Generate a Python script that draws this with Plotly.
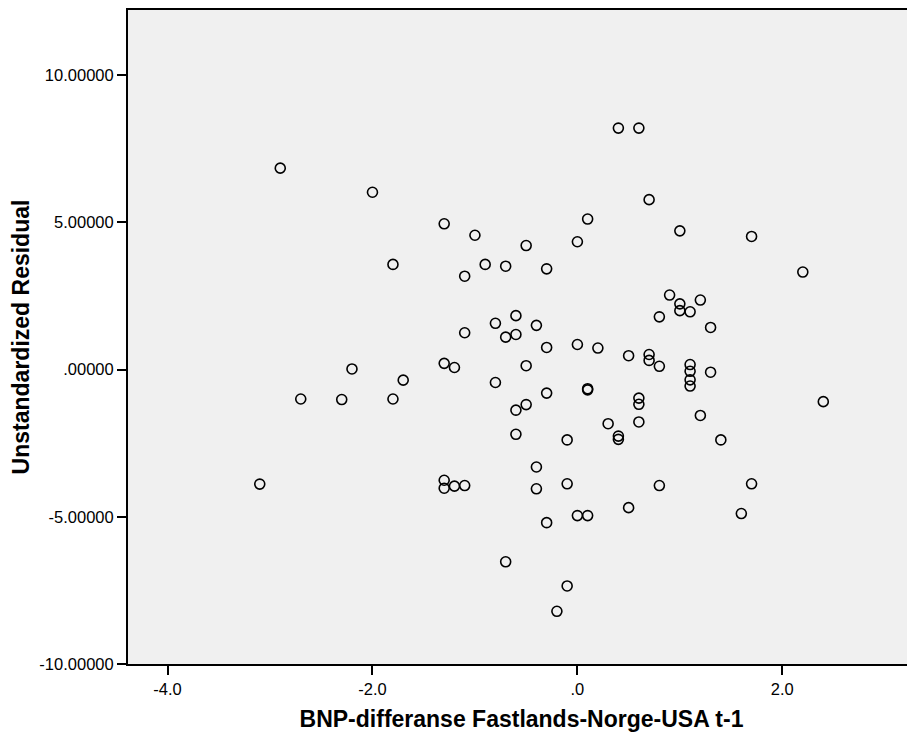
import plotly.graph_objects as go

# BNP-differanse Fastlands-Norge-USA t-1
x_vals = [-2.9, -2.0, -1.3, -1.0, -0.5, 0.1, 0.0, 0.4, 0.6, 0.7, 1.0, 1.7, 2.2,
          -1.8, -0.9, -0.7, -0.3, -1.1, 0.9, 1.0, 1.0, 1.1, 1.2, 0.8, 1.3,
          -0.6, -0.8, -0.4, -0.6, -0.7, -1.1, -0.3, 0.0, 0.2, 0.5, 0.7, 0.7,
          0.8, 1.1, 1.1, 1.1, 1.1, 1.3, -1.3, -1.2, -0.5, -2.2, -0.8, -1.7,
          -0.3, 0.1, 0.1, 0.6, 0.6, 2.4, -2.7, -2.3, -1.8, -0.6, -0.5, 0.3,
          0.6, 1.2, -0.6, -0.1, 0.4, 0.4, 1.4, -0.4, -0.1, -0.4, -3.1, -1.3,
          -1.3, -1.2, -1.1, 0.8, 1.7, -0.3, 0.0, 0.1, 0.5, 1.6, -0.7, -0.1, -0.2]
# Unstandardized Residual
y_vals = [6.84, 6.02, 4.95, 4.56, 4.21, 5.11, 4.34, 8.20, 8.20, 5.77, 4.71, 4.52, 3.31,
          3.57, 3.57, 3.51, 3.42, 3.17, 2.53, 2.23, 2.00, 1.96, 2.36, 1.79, 1.43,
          1.83, 1.57, 1.50, 1.19, 1.10, 1.25, 0.75, 0.85, 0.73, 0.47, 0.51, 0.31,
          0.11, 0.17, -0.06, -0.35, -0.56, -0.09, 0.21, 0.07, 0.13, 0.02, -0.44, -0.36,
          -0.80, -0.65, -0.69, -0.97, -1.18, -1.09, -1.00, -1.02, -1.00, -1.38, -1.19, -1.84,
          -1.78, -1.56, -2.20, -2.39, -2.26, -2.37, -2.39, -3.31, -3.88, -4.05, -3.89, -3.76,
          -4.03, -3.96, -3.94, -3.94, -3.88, -5.20, -4.96, -4.96, -4.69, -4.89, -6.53, -7.35, -8.21]

x_tickvals = [-4.0, -2.0, 0.0, 2.0]
x_ticktext = ["-4.0", "-2.0", ".0", "2.0"]
y_tickvals = [-10, -5, 0, 5, 10]
y_ticktext = ["-10.00000", "-5.00000", ".00000", "5.00000", "10.00000"]

FONT = "Liberation Sans, Arial, sans-serif"

fig = go.Figure(go.Scatter(
    x=x_vals, y=y_vals, mode="markers",
    marker=dict(symbol="circle-open", size=10, color="black", line=dict(width=1.6, color="black")),
    showlegend=False,
))

fig.update_layout(
    width=907, height=732,
    margin=dict(l=120, r=0, t=2, b=76),
    paper_bgcolor="white",
    plot_bgcolor="#F0F0F0",
    font=dict(family=FONT, size=16.5, color="black"),
    xaxis=dict(
        range=[-4.386, 3.295], tickvals=x_tickvals, ticktext=x_ticktext,
        showgrid=False, zeroline=False, showline=True, linecolor="black", linewidth=2,
        mirror=True, ticks="outside", ticklen=9, tickwidth=2, tickcolor="black",
        title=dict(text="<b>BNP-differanse Fastlands-Norge-USA t-1</b>",
                   font=dict(size=23, family=FONT), standoff=14),
        automargin=False,
    ),
    yaxis=dict(
        range=[-10, 12.21], tickvals=y_tickvals, ticktext=y_ticktext,
        showgrid=False, zeroline=False, showline=True, linecolor="black", linewidth=2,
        ticks="outside", ticklen=9, tickwidth=2, tickcolor="black",
        title=dict(text="<b>Unstandardized Residual</b>",
                   font=dict(size=23, family=FONT), standoff=4),
        automargin=False,
    ),
)

fig.write_html("out.html")
